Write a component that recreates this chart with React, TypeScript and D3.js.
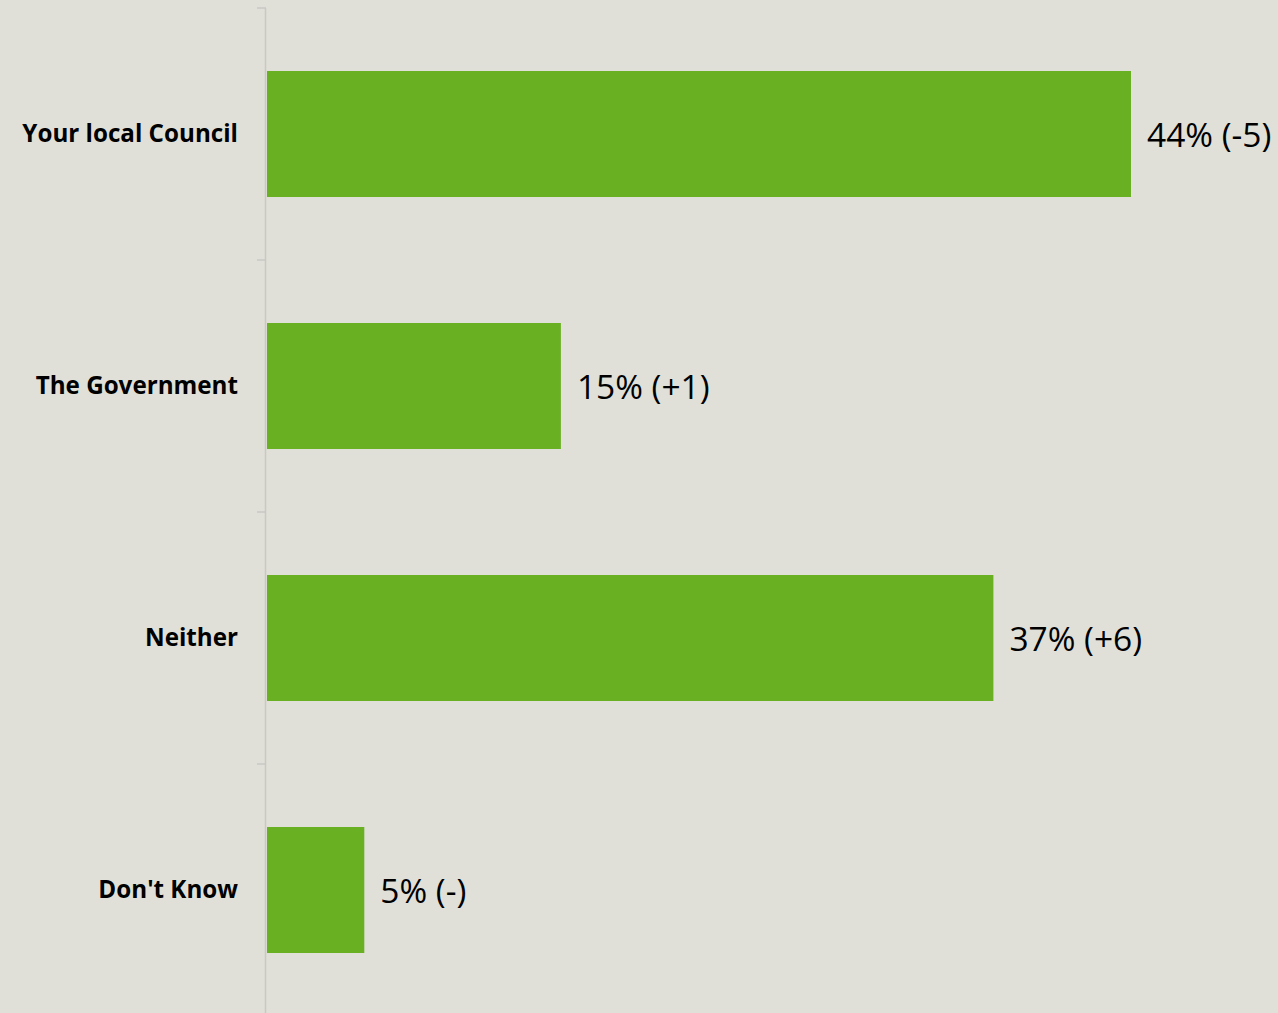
import React from "react";
import * as d3 from "d3";

const categories = ["Your local Council", "The Government", "Neither", "Don't Know"];
const values = [44, 15, 37, 5];
const changes = ["-5", "+1", "+6", "-"];

const W = 1278;
const H = 1013;

export default function App() {
  const x = d3.scaleLinear().domain([0, 44]).range([266, 1131]);
  const y = d3
    .scaleBand<string>()
    .domain(categories)
    .range([8, 1016])
    .paddingInner(0.5)
    .paddingOuter(0.25);
  const step = y.step();
  const boundaries = d3.range(categories.length + 1).map((i) => 8 + i * step);

  return (
    <svg
      width={W}
      height={H}
      style={{ position: "absolute", left: 0, top: 0, background: "#e0e0d9" }}
    >
      <rect x={0} y={0} width={W} height={H} fill="#e0e0d9" />
      <line x1={265.5} x2={265.5} y1={8} y2={1016} stroke="#c8c8c4" strokeWidth={1.5} />
      {boundaries.map((b, i) => (
        <line key={i} x1={257} x2={266} y1={b} y2={b} stroke="#c8c8c4" strokeWidth={1.5} />
      ))}
      {categories.map((c, i) => {
        const yy = y(c)!;
        const bw = y.bandwidth();
        return (
          <g key={c}>
            <rect x={x(0) + 1} y={yy} width={x(values[i]) - x(0) - 1} height={bw} fill="#6ab023" />
            <text
              x={238}
              y={yy + bw / 2}
              dy="0.35em"
              textAnchor="end"
              fontFamily="'Open Sans', sans-serif"
              fontWeight={700}
              fontSize={24.2}
              fill="#000"
            >
              {c}
            </text>
            <text
              x={x(values[i]) + 16}
              y={yy + bw / 2 + 1}
              dy="0.35em"
              textAnchor="start"
              fontFamily="'Open Sans', sans-serif"
              fontSize={33.5}
              fill="#000"
            >
              {`${values[i]}% (${changes[i]})`}
            </text>
          </g>
        );
      })}
    </svg>
  );
}
